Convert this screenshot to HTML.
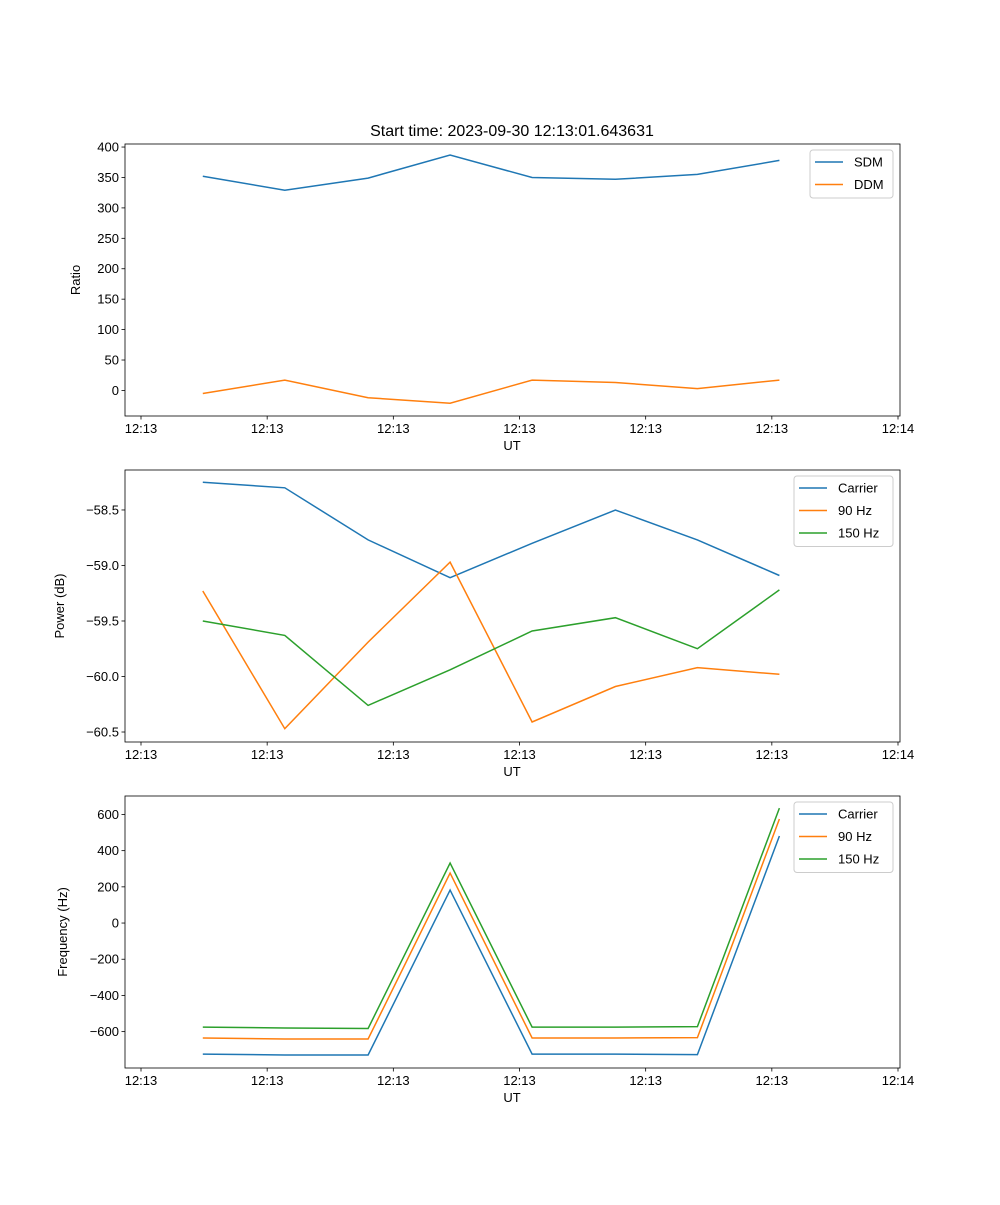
<!DOCTYPE html>
<html><head><meta charset="utf-8"><style>
body{margin:0;background:#fff}
svg text{font-family:"Liberation Sans","DejaVu Sans",sans-serif;fill:#000}
</style></head><body>
<svg id="fig" width="1000" height="1200" xmlns="http://www.w3.org/2000/svg">
<rect width="1000" height="1200" fill="#fff"/>
<text x="512" y="136" font-size="16" text-anchor="middle">Start time: 2023-09-30 12:13:01.643631</text>
</svg>
<script>
const times = [4.9, 11.4, 18.0, 24.5, 31.0, 37.6, 44.1, 50.6];
const xTickVals = [0, 10, 20, 30, 40, 50, 60];
const xTickLabels = ["12:13","12:13","12:13","12:13","12:13","12:13","12:14"];
const sdm = [352, 329, 349, 387, 350, 347, 355, 378];
const ddm = [-5, 17, -12, -21, 17, 13, 3, 17];
const pwrCarrier = [-58.25, -58.30, -58.77, -59.11, -58.80, -58.50, -58.77, -59.09];
const pwr90 = [-59.23, -60.47, -59.69, -58.97, -60.41, -60.09, -59.92, -59.98];
const pwr150 = [-59.50, -59.63, -60.26, -59.94, -59.59, -59.47, -59.75, -59.22];
const frqCarrier = [-724, -729, -729, 182, -724, -724, -727, 481];
const frq90 = [-635, -641, -641, 276, -635, -635, -633, 575];
const frq150 = [-575, -580, -583, 331, -575, -575, -572, 635];
const ratioTicks = [0, 50, 100, 150, 200, 250, 300, 350, 400];
const pwrTicks = [-60.5, -60.0, -59.5, -59.0, -58.5];
const frqTicks = [-600, -400, -200, 0, 200, 400, 600];

const NS = "http://www.w3.org/2000/svg";
const svg = document.getElementById('fig');
const C = {blue:"#1f77b4", orange:"#ff7f0e", green:"#2ca02c"};
function mk(tag, attrs, parent){const e=document.createElementNS(NS,tag);for(const k in attrs)e.setAttribute(k,attrs[k]);(parent||svg).appendChild(e);return e;}

function panel(name, top, yMin, yMax, yTicks, fmt, ylabel, series, legend){
  const L=125,R=900,T=top,B=top+272;
  const g=mk('g',{});
  
  
  const xs=v=>141+(v-0)/60*757;
  const ys=v=>B-(v-yMin)/(yMax-yMin)*(B-T);
  // series
  series.forEach(s=>{
    const p=mk('polyline',{points:times.map((t,i)=>xs(t).toFixed(1)+','+ys(s.data[i]).toFixed(1)).join(' '),fill:'none',stroke:s.color,'stroke-width':1.5},g);
    
    
  });
  const fr=mk('rect',{x:L,y:T,width:R-L,height:B-T,fill:'none',stroke:'#000','stroke-width':0.8},g);
  
  
  xTickVals.forEach((v,i)=>{
    const x=xs(v);
    mk('line',{x1:x,x2:x,y1:B,y2:B+3.5,stroke:'#000','stroke-width':0.8},g);
    const t=mk('text',{x:x,y:B+17,'font-size':13,'text-anchor':'middle'},g);
    t.textContent=xTickLabels[i];
    
    
  });
  const xl=mk('text',{x:512,y:B+34,'font-size':13,'text-anchor':'middle'},g);
  xl.textContent='UT';
  
  
  yTicks.forEach(v=>{
    const y=ys(v);
    mk('line',{x1:L-3.5,x2:L,y1:y,y2:y,stroke:'#000','stroke-width':0.8},g);
    const t=mk('text',{x:L-6,y:y+4.5,'font-size':13,'text-anchor':'end'},g);
    t.textContent=fmt(v);
    
    
  });
  const yl=mk('text',{x:0,y:0,'font-size':13,'text-anchor':'middle',transform:`translate(${legend.ylx},${(T+B)/2}) rotate(-90)`},g);
  yl.textContent=ylabel;
  
  
  // legend
  const lg=mk('g',{},g);
  
  
  mk('rect',{x:legend.x,y:T+6,width:R-7-legend.x,height:series.length*22.5+3,rx:3,fill:'#fff',stroke:'#ccc','stroke-width':1},lg);
  series.forEach((s,i)=>{
    const y=T+18+i*22.5;
    mk('line',{x1:legend.x+5,x2:legend.x+33,y1:y,y2:y,stroke:s.color,'stroke-width':1.5},lg);
    const t=mk('text',{x:legend.x+44,y:y+4.5,'font-size':13},lg);
    t.textContent=s.label;
    
    
  });
}
panel('ratio',144,-42,405,ratioTicks,v=>String(v),'Ratio',
  [{key:'sdm',label:'SDM',data:sdm,color:C.blue},{key:'ddm',label:'DDM',data:ddm,color:C.orange}],{x:810,ylx:80});
panel('power',470,-60.59,-58.14,pwrTicks,v=>v.toFixed(1).replace('-','\u2212'),'Power (dB)',
  [{key:'carrier',label:'Carrier',data:pwrCarrier,color:C.blue},{key:'90hz',label:'90 Hz',data:pwr90,color:C.orange},{key:'150hz',label:'150 Hz',data:pwr150,color:C.green}],{x:794,ylx:64});
panel('frequency',796,-801,702,frqTicks,v=>String(v).replace('-','\u2212'),'Frequency (Hz)',
  [{key:'carrier',label:'Carrier',data:frqCarrier,color:C.blue},{key:'90hz',label:'90 Hz',data:frq90,color:C.orange},{key:'150hz',label:'150 Hz',data:frq150,color:C.green}],{x:794,ylx:67});
</script>
</body></html>
